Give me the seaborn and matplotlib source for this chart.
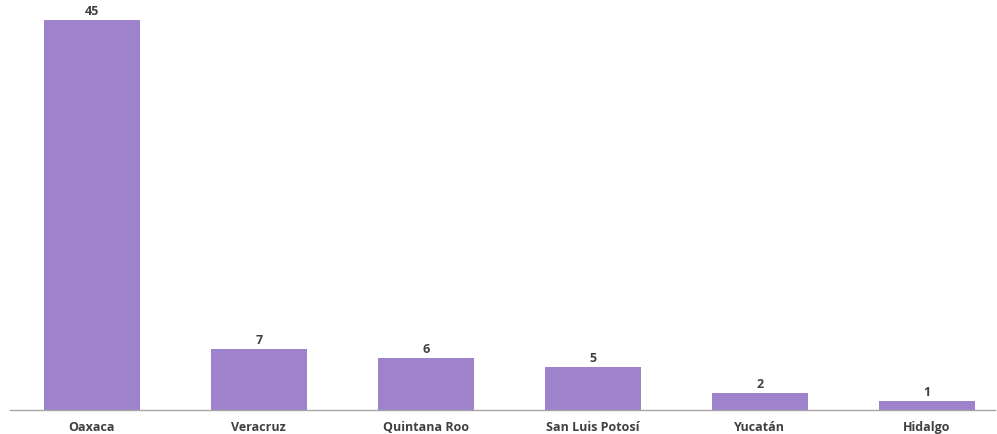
import matplotlib
matplotlib.use("Agg")
import matplotlib.pyplot as plt
import seaborn as sns
import pandas as pd

states = ["Oaxaca", "Veracruz", "Quintana Roo", "San Luis Potosí", "Yucatán", "Hidalgo"]
counts = [45, 7, 6, 5, 2, 1]

df = pd.DataFrame({"estado": states, "n": counts})

sns.set_style("white")
plt.rcParams["font.family"] = ["Open Sans", "DejaVu Sans"]

fig = plt.figure(figsize=(9.97, 4.35), dpi=100)
ax = fig.add_axes([10 / 997, 24 / 435, 985 / 997, 411 / 435])

sns.barplot(data=df, x="estado", y="n", color="#9e82cc", saturation=1,
            width=0.575, linewidth=0, ax=ax)

for i, v in enumerate(counts):
    ax.text(i, v + 0.35, str(v), ha="center", va="bottom", fontsize=9,
            fontweight="bold", color="#404040")

ax.set_xlim(-0.49, 5.41)
ax.set_ylim(0, 45 * 411 / 390)
ax.set_xlabel("")
ax.set_ylabel("")
ax.set_yticks([])
ax.tick_params(axis="x", length=0, pad=7, labelsize=9, labelcolor="#404040")
for lbl in ax.get_xticklabels():
    lbl.set_fontweight("bold")
for side in ["top", "right", "left"]:
    ax.spines[side].set_visible(False)
ax.spines["bottom"].set_color("#a6a6a6")
ax.spines["bottom"].set_linewidth(1)

fig.savefig("out.png", dpi=100)
